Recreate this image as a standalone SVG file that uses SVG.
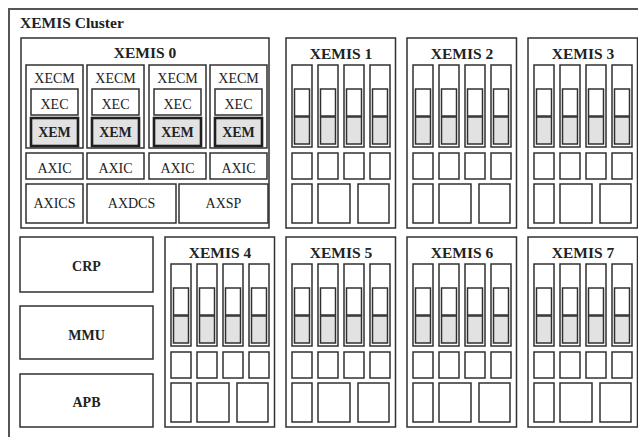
<svg xmlns="http://www.w3.org/2000/svg" xmlns:xlink="http://www.w3.org/1999/xlink" width="638" height="437" viewBox="0 0 638 437">
<style>
.b{fill:#fff;stroke:#303030;stroke-width:1.5}
.m{fill:#e2e2e2;stroke:#303030;stroke-width:1.5}
.mt{fill:#e2e2e2;stroke:#202020;stroke-width:2.6}
.t{font-family:"Liberation Serif",serif;font-size:14px;fill:#222;text-anchor:middle}
.tb{font-family:"Liberation Serif",serif;font-size:14px;font-weight:bold;fill:#222;text-anchor:middle}
.h{font-family:"Liberation Serif",serif;font-size:15.5px;font-weight:bold;fill:#222;text-anchor:middle}
</style>
<defs>
<g id="xemis-body">
<rect class="b" x="0" y="0" width="109.5" height="190"/>
<rect class="b" x="6" y="27" width="20" height="82"/>
<rect class="b" x="32" y="27" width="20" height="82"/>
<rect class="b" x="58" y="27" width="20" height="82"/>
<rect class="b" x="84" y="27" width="20" height="82"/>
<rect class="b" x="8.5" y="51" width="15" height="27"/>
<rect class="b" x="34.5" y="51" width="15" height="27"/>
<rect class="b" x="60.5" y="51" width="15" height="27"/>
<rect class="b" x="86.5" y="51" width="15" height="27"/>
<rect class="m" x="8.5" y="79" width="15" height="27"/>
<rect class="m" x="34.5" y="79" width="15" height="27"/>
<rect class="m" x="60.5" y="79" width="15" height="27"/>
<rect class="m" x="86.5" y="79" width="15" height="27"/>
<rect class="b" x="6" y="115" width="20" height="26"/>
<rect class="b" x="32" y="115" width="20" height="26"/>
<rect class="b" x="58" y="115" width="20" height="26"/>
<rect class="b" x="84" y="115" width="20" height="26"/>
<rect class="b" x="6" y="146" width="20" height="39"/>
<rect class="b" x="32" y="146" width="32" height="39"/>
<rect class="b" x="72" y="146" width="31" height="39"/>
</g>
</defs>
<g id="cluster">
<path d="M9,437 V9 H638" fill="none" stroke="#555" stroke-width="2"/>
<text x="20" y="28" font-family="Liberation Serif, serif" font-size="15.5" font-weight="bold" fill="#222">XEMIS Cluster</text>
</g>
<g id="xemis0" transform="translate(21,38)">
<rect class="b" x="0" y="0" width="248" height="190"/>
<text class="h" x="124" y="20">XEMIS 0</text>
<rect class="b" x="5" y="27" width="57" height="83"/>
<rect class="b" x="66" y="27" width="57" height="83"/>
<rect class="b" x="128" y="27" width="57" height="83"/>
<rect class="b" x="189" y="27" width="57" height="83"/>
<text class="t" x="33.5" y="45">XECM</text>
<text class="t" x="94.5" y="45">XECM</text>
<text class="t" x="156.5" y="45">XECM</text>
<text class="t" x="217.5" y="45">XECM</text>
<rect class="b" x="10" y="51" width="47" height="26"/>
<rect class="b" x="71" y="51" width="47" height="26"/>
<rect class="b" x="133" y="51" width="47" height="26"/>
<rect class="b" x="194" y="51" width="47" height="26"/>
<text class="t" x="33.5" y="71">XEC</text>
<text class="t" x="94.5" y="71">XEC</text>
<text class="t" x="156.5" y="71">XEC</text>
<text class="t" x="217.5" y="71">XEC</text>
<rect class="mt" x="10" y="80" width="47" height="28"/>
<rect class="mt" x="71" y="80" width="47" height="28"/>
<rect class="mt" x="133" y="80" width="47" height="28"/>
<rect class="mt" x="194" y="80" width="47" height="28"/>
<text class="tb" x="33.5" y="99">XEM</text>
<text class="tb" x="94.5" y="99">XEM</text>
<text class="tb" x="156.5" y="99">XEM</text>
<text class="tb" x="217.5" y="99">XEM</text>
<rect class="b" x="5" y="115" width="57" height="26"/>
<rect class="b" x="66" y="115" width="57" height="26"/>
<rect class="b" x="128" y="115" width="57" height="26"/>
<rect class="b" x="189" y="115" width="57" height="26"/>
<text class="t" x="33.5" y="135">AXIC</text>
<text class="t" x="94.5" y="135">AXIC</text>
<text class="t" x="156.5" y="135">AXIC</text>
<text class="t" x="217.5" y="135">AXIC</text>
<rect class="b" x="5" y="146" width="57" height="39"/>
<rect class="b" x="66" y="146" width="89" height="39"/>
<rect class="b" x="158" y="146" width="89" height="39"/>
<text class="t" x="33.5" y="170">AXICS</text>
<text class="t" x="110.5" y="170">AXDCS</text>
<text class="t" x="202.5" y="170">AXSP</text>
</g>
<g id="xemis1" transform="translate(286,38)"><use xlink:href="#xemis-body"/><text class="h" x="55" y="21">XEMIS 1</text></g>
<g id="xemis2" transform="translate(407,38)"><use xlink:href="#xemis-body"/><text class="h" x="55" y="21">XEMIS 2</text></g>
<g id="xemis3" transform="translate(528,38)"><use xlink:href="#xemis-body"/><text class="h" x="55" y="21">XEMIS 3</text></g>
<g id="xemis4" transform="translate(165,237)"><use xlink:href="#xemis-body"/><text class="h" x="55" y="21">XEMIS 4</text></g>
<g id="xemis5" transform="translate(286,237)"><use xlink:href="#xemis-body"/><text class="h" x="55" y="21">XEMIS 5</text></g>
<g id="xemis6" transform="translate(407,237)"><use xlink:href="#xemis-body"/><text class="h" x="55" y="21">XEMIS 6</text></g>
<g id="xemis7" transform="translate(528,237)"><use xlink:href="#xemis-body"/><text class="h" x="55" y="21">XEMIS 7</text></g>
<g id="crp"><rect class="b" x="20" y="237" width="133" height="55"/><text class="tb" x="86.5" y="271" font-size="14.5">CRP</text></g>
<g id="mmu"><rect class="b" x="20" y="306" width="133" height="53"/><text class="tb" x="86.5" y="340" font-size="14.5">MMU</text></g>
<g id="apb"><rect class="b" x="20" y="374" width="133" height="53"/><text class="tb" x="86.5" y="407" font-size="14.5">APB</text></g>
</svg>
